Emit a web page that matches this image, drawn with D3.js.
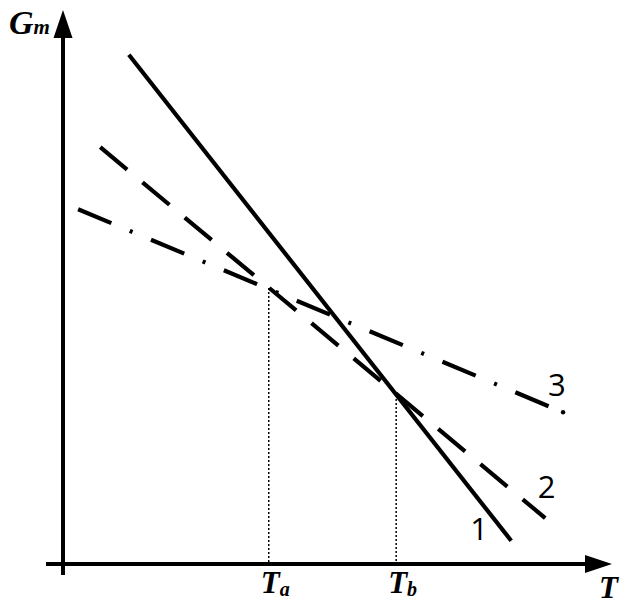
<!DOCTYPE html>
<html>
<head>
<meta charset="utf-8">
<script src="https://cdn.jsdelivr.net/npm/d3@7"></script>
<style>
  body { margin: 0; background: #fff; }
  svg { display: block; }
  .serif { font-family: "Liberation Serif", "DejaVu Serif", serif; font-weight: bold; font-style: italic; }
  .num { font-family: "Open Sans", "Liberation Sans", sans-serif; }
</style>
</head>
<body>
<div id="chart"></div>
<script>
// lines in chart units (T, Gm)
const line1 = [{t: 12.2, g: 94.3}, {t: 83.0, g: 4.3}];
const line2 = [{t: 6.9, g: 77.2}, {t: 89.3, g: 8.5}];
const line3 = [{t: 2.8, g: 65.7}, {t: 92.6, g: 28.1}];
const lineNames = ["1", "2", "3"];
const lineLabelPos = [{t: 75.4, g: 4.5}, {t: 87.9, g: 12.2}, {t: 89.8, g: 31.2}];

// crossing points dropped to the T axis
const crossings = [{t: 38.1, g: 51.1, name: "a"}, {t: 61.7, g: 31.3, name: "b"}];

const width = 632, height = 612;

const svg = d3.select("#chart").append("svg")
    .attr("width", width)
    .attr("height", height);

const x = d3.scaleLinear().domain([0, 100]).range([63, 603]);
const y = d3.scaleLinear().domain([0, 100]).range([564, 24]);

const line = d3.line().x(d => x(d.t)).y(d => y(d.g));

// dotted drop lines
svg.selectAll(".drop")
    .data(crossings)
    .enter()
    .append("line")
    .attr("class", "drop")
    .attr("x1", d => x(d.t)).attr("x2", d => x(d.t))
    .attr("y1", d => y(d.g)).attr("y2", y(0))
    .attr("stroke", "#000")
    .attr("stroke-width", 1.5)
    .attr("stroke-dasharray", "2 2");

// axes as arrows
const axis = svg.append("g");
axis.append("line")
    .attr("x1", x(0)).attr("x2", x(0))
    .attr("y1", y(0) + 11).attr("y2", 30)
    .attr("stroke", "#000").attr("stroke-width", 4);
axis.append("path")
    .attr("d", `M${x(0)},10 L${x(0) - 9.5},38 L${x(0) + 9.5},38 Z`)
    .attr("fill", "#000");
axis.append("line")
    .attr("x1", 46).attr("x2", 592)
    .attr("y1", y(0)).attr("y2", y(0))
    .attr("stroke", "#000").attr("stroke-width", 4);
axis.append("path")
    .attr("d", `M612,${y(0)} L585,${y(0) - 9} L585,${y(0) + 9} Z`)
    .attr("fill", "#000");

// the three curves
const series = [
    {data: line1, dash: null},
    {data: line2, dash: "35 20"},
    {data: line3, dash: "36 20 3 20"}
];

svg.selectAll(".series")
    .data(series)
    .enter()
    .append("path")
    .attr("class", "series")
    .attr("d", d => line(d.data))
    .attr("fill", "none")
    .attr("stroke", "#000")
    .attr("stroke-width", 4.2)
    .attr("stroke-dasharray", d => d.dash);

// end dot of line 3
svg.append("circle")
    .attr("cx", x(line3[1].t)).attr("cy", y(line3[1].g))
    .attr("r", 2.2).attr("fill", "#000");

// line numbers
svg.selectAll(".num")
    .data(lineNames)
    .enter()
    .append("text")
    .attr("class", "num")
    .attr("x", (d, i) => x(lineLabelPos[i].t))
    .attr("y", (d, i) => y(lineLabelPos[i].g))
    .attr("font-size", 31)
    .text(d => d);

// axis titles
const gm = svg.append("text").attr("class", "serif").attr("x", 9).attr("y", 34);
gm.append("tspan").attr("font-size", 34).text("G");
gm.append("tspan").attr("font-size", 21).text("m");

svg.append("text").attr("class", "serif")
    .attr("x", 599).attr("y", 598)
    .attr("font-size", 31)
    .text("T");

// Ta, Tb tick labels
crossings.forEach(c => {
    const t = svg.append("text").attr("class", "serif")
        .attr("x", x(c.t) - 8).attr("y", 593);
    t.append("tspan").attr("font-size", 31).text("T");
    t.append("tspan").attr("font-size", 20).attr("dy", 3).text(c.name);
});
</script>
</body>
</html>
